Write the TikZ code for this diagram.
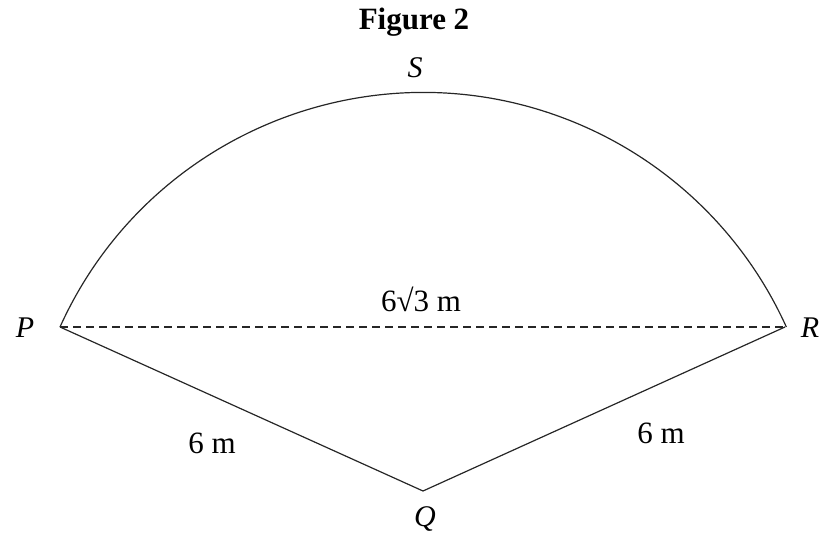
\documentclass[tikz,border=0pt]{standalone}
\usepackage{fontspec}
\setmainfont{Liberation Serif}
\usepackage{tikz}
\usetikzlibrary{positioning}

\begin{document}
\begin{tikzpicture}[
      x=1pt, y=1pt,
      edge/.style={line width=1.2pt, black!85},
      chord/.style={line width=1.2pt, black!85, dash pattern=on 8pt off 5pt},
      vlabel/.style={font=\fontsize{30}{35}\selectfont\itshape, inner sep=0pt},
      len/.style={font=\fontsize{31}{36}\selectfont, inner sep=0pt}
    ]
    \useasboundingbox (0,0) rectangle (824,536);

    % --- Title ---
    \node[font=\fontsize{31}{36}\selectfont\bfseries, inner sep=0pt] (title) at (414,514) {Figure 2};

    % --- Vertices ---
    \coordinate (P) at (60,209);
    \coordinate (R) at (785,209);
    \coordinate (Q) at (423,45);

    % --- Vertex labels ---
    \node[vlabel] (labP) at (25,208) {P};
    \node[vlabel] (labR) at (810,208) {R};
    \node[vlabel] (labQ) at (425,17) {Q};
    \node[vlabel] (labS) at (415,468) {S};

    % --- Sides ---
    \draw[edge] (P) -- (Q) -- (R);
    \draw[chord] (P) -- (R);
    \draw[edge] (P) arc[start angle=155.7, end angle=24.3, radius=398.5];

    % --- Lengths ---
    \node[len] (pr) at (421,237) {6√3 m};
    \node[len] (pq) at (212,93) {6 m};
    \node[len] (qr) at (661,103) {6 m};
  \end{tikzpicture}
\end{document}
